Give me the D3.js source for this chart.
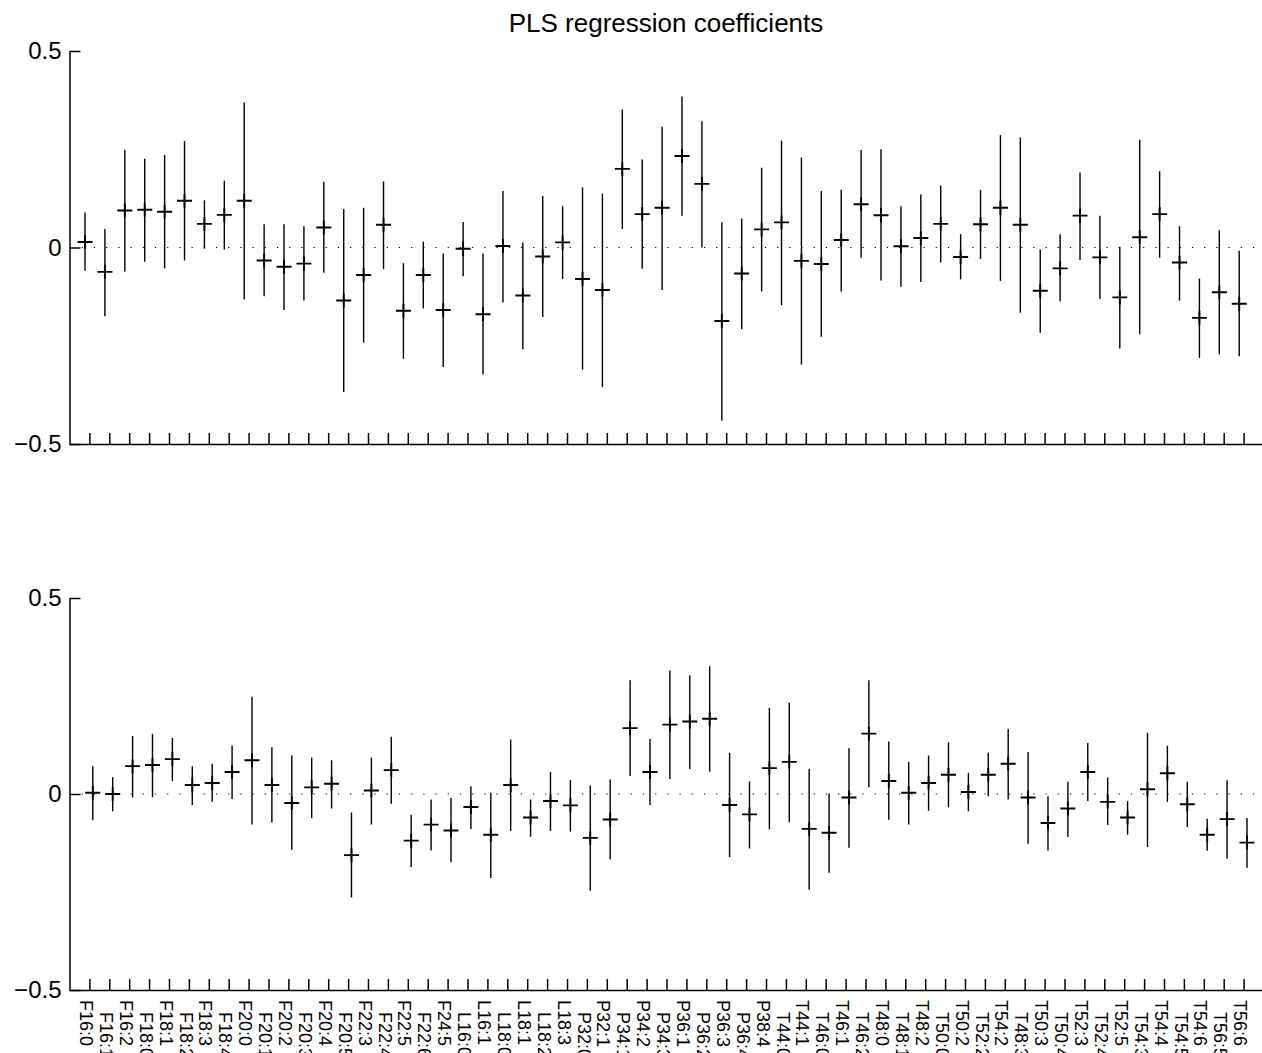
<!DOCTYPE html>
<html>
<head>
<meta charset="utf-8">
<script src="https://cdn.jsdelivr.net/npm/d3@7"></script>
<style>
  html, body { margin: 0; padding: 0; background: #fff; }
  svg { display: block; font-family: "Liberation Sans", Arial, Helvetica, sans-serif; }
</style>
</head>
<body>
<svg id="chart" width="1262" height="1053"></svg>
<script>
const labels = ["F16:0","F16:1","F16:2","F18:0","F18:1","F18:2","F18:3","F18:4","F20:0","F20:1","F20:2","F20:3","F20:4","F20:5",
  "F22:3","F22:4","F22:5","F22:6","F24:5","L16:0","L16:1","L18:0","L18:1","L18:2","L18:3","P32:0","P32:1","P34:1","P34:2",
  "P34:3","P36:1","P36:2","P36:3","P36:4","P38:4","T44:0","T44:1","T46:0","T46:1","T46:2","T48:0","T48:1","T48:2",
  "T50:0","T50:2","T52:2","T54:2","T48:3","T50:3","T50:4","T52:3","T52:4","T52:5","T54:3","T54:4","T54:5","T54:6","T56:5","T56:6"];

const topMean = [0.014,-0.062,0.094,0.096,0.091,0.119,0.060,0.083,0.119,-0.033,-0.049,-0.041,0.051,-0.135,
  -0.070,0.058,-0.161,-0.070,-0.159,-0.003,-0.170,0.004,-0.122,-0.023,0.013,-0.080,-0.108,0.200,0.085,
  0.101,0.233,0.162,-0.187,-0.066,0.046,0.064,-0.034,-0.042,0.019,0.110,0.082,0.003,0.024,
  0.060,-0.024,0.059,0.101,0.058,-0.110,-0.053,0.081,-0.025,-0.127,0.026,0.085,-0.038,-0.179,-0.114,-0.143];
const topHigh = [0.089,0.047,0.249,0.226,0.235,0.271,0.120,0.170,0.369,0.059,0.059,0.054,0.167,0.098,
  0.101,0.168,-0.040,0.015,-0.015,0.065,-0.015,0.144,0.013,0.131,0.105,0.153,0.137,0.351,0.224,
  0.307,0.384,0.321,0.064,0.074,0.203,0.272,0.229,0.144,0.147,0.248,0.250,0.105,0.135,
  0.158,0.034,0.146,0.286,0.280,-0.005,0.034,0.191,0.081,0.002,0.274,0.194,0.054,-0.079,0.044,-0.008];
const topLow = [-0.059,-0.175,-0.061,-0.036,-0.053,-0.033,-0.003,-0.005,-0.132,-0.124,-0.159,-0.135,-0.064,-0.368,
  -0.242,-0.055,-0.283,-0.155,-0.304,-0.073,-0.323,-0.140,-0.259,-0.177,-0.080,-0.311,-0.355,0.047,-0.054,
  -0.108,0.081,0.000,-0.441,-0.208,-0.112,-0.147,-0.298,-0.227,-0.112,-0.026,-0.084,-0.100,-0.088,
  -0.038,-0.081,-0.029,-0.085,-0.166,-0.217,-0.137,-0.032,-0.131,-0.257,-0.221,-0.026,-0.135,-0.281,-0.272,-0.277];

const botMean = [0.003,0.000,0.071,0.074,0.089,0.023,0.028,0.056,0.086,0.023,-0.023,0.017,0.026,-0.156,
  0.009,0.061,-0.119,-0.078,-0.093,-0.033,-0.104,0.023,-0.060,-0.018,-0.029,-0.112,-0.065,0.168,0.056,
  0.177,0.185,0.192,-0.028,-0.052,0.066,0.082,-0.089,-0.099,-0.009,0.154,0.033,0.003,0.028,
  0.049,0.005,0.049,0.077,-0.009,-0.074,-0.037,0.056,-0.020,-0.060,0.012,0.053,-0.026,-0.104,-0.064,-0.124];
const botHigh = [0.071,0.043,0.148,0.153,0.143,0.071,0.077,0.124,0.248,0.119,0.098,0.093,0.086,-0.047,
  0.093,0.146,-0.053,-0.014,-0.010,0.020,0.003,0.139,-0.014,0.056,0.036,0.022,0.037,0.290,0.140,
  0.315,0.303,0.326,0.105,0.032,0.220,0.233,0.064,0.001,0.117,0.290,0.134,0.082,0.098,
  0.132,0.054,0.105,0.166,0.107,-0.006,0.031,0.130,0.042,-0.018,0.156,0.123,0.031,-0.063,0.035,-0.061];
const botLow = [-0.067,-0.044,-0.009,-0.008,0.033,-0.028,-0.020,-0.013,-0.078,-0.073,-0.142,-0.062,-0.037,-0.264,
  -0.078,-0.025,-0.186,-0.144,-0.174,-0.089,-0.214,-0.094,-0.109,-0.094,-0.096,-0.247,-0.167,0.046,-0.028,
  0.038,0.064,0.057,-0.161,-0.139,-0.090,-0.072,-0.244,-0.201,-0.137,0.017,-0.066,-0.078,-0.043,
  -0.034,-0.044,-0.006,-0.014,-0.127,-0.144,-0.110,-0.018,-0.079,-0.104,-0.135,-0.020,-0.084,-0.145,-0.165,-0.188];

const yTicks = [-0.5, 0, 0.5];
const title = "PLS regression coefficients";

const svg = d3.select("#chart");
const idx = d3.range(1, labels.length + 1);
const x = d3.scaleLinear().domain([0, 60]).range([69.5, 1263.5]);

const panels = [
  { mean: topMean, low: topLow, high: topHigh, y0: 51, y1: 444, shift: -0.22, showLabels: false },
  { mean: botMean, low: botLow, high: botHigh, y0: 598, y1: 990, shift: 0.17, showLabels: true }
];

svg.append("text")
  .attr("x", 666).attr("y", 32)
  .attr("text-anchor", "middle")
  .attr("font-size", 26)
  .text(title);

panels.forEach(p => {
  const y = d3.scaleLinear().domain([-0.5, 0.5]).range([p.y1, p.y0]);
  const g = svg.append("g");

  g.append("line")
    .attr("x1", x(0)).attr("x2", x(60))
    .attr("y1", y(0)).attr("y2", y(0))
    .attr("stroke", "#000").attr("stroke-width", 1.2)
    .attr("stroke-dasharray", "1.2,11");

  const xAxis = d3.axisBottom(x).tickValues(idx).tickSizeInner(-11).tickSizeOuter(0).tickFormat("");
  const gx = g.append("g").attr("transform", `translate(0,${p.y1})`).call(xAxis);
  gx.selectAll("path,line").attr("stroke", "#000").attr("stroke-width", 1.5);

  const yAxis = d3.axisLeft(y).tickValues(yTicks).tickSizeInner(-11).tickSizeOuter(0).tickPadding(8)
    .tickFormat(d => d === 0 ? "0" : d3.format(".1f")(d));
  const gy = g.append("g").attr("transform", `translate(${x(0)},0)`).call(yAxis);
  gy.selectAll("path,line").attr("stroke", "#000").attr("stroke-width", 1.5);
  gy.selectAll("text").attr("font-size", 24).attr("font-family", "Liberation Sans, Arial, sans-serif").attr("fill", "#000");

  const bars = g.append("g");
  idx.forEach((k, i) => {
    const cx = x(k + p.shift);
    bars.append("line")
      .attr("x1", cx).attr("x2", cx)
      .attr("y1", y(p.low[i])).attr("y2", y(p.high[i]))
      .attr("stroke", "#000").attr("stroke-width", 1.4);
    const cy = y(p.mean[i]);
    bars.append("path")
      .attr("d", `M${cx - 7.5},${cy}H${cx + 7.5}M${cx},${cy - 7}V${cy + 7}`)
      .attr("stroke", "#000").attr("stroke-width", 1.9).attr("fill", "none");
  });

  if (p.showLabels) {
    const lg = g.append("g");
    labels.forEach((lab, i) => {
      const tx = x(i + 1) - 3;
      const ty = p.y1 + 10 + (i % 2 === 1 ? 12 : 0);
      lg.append("text")
        .attr("transform", `translate(${tx},${ty}) rotate(90)`)
        .attr("dy", "0.35em")
        .attr("font-size", 18)
        .attr("text-anchor", "start")
        .text(lab);
    });
  }
});
</script>
</body>
</html>
